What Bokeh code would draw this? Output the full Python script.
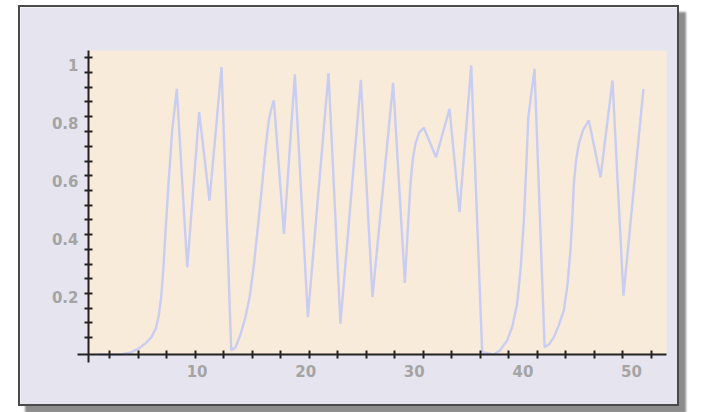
from bokeh.plotting import figure
from bokeh.models import FixedTicker, BoxAnnotation, Range1d
from bokeh.embed import file_html
from bokeh.resources import INLINE

# ---- data ----
x_values = [1.0, 3.0, 3.8, 4.6, 5.3, 5.8, 6.2, 6.45, 6.7, 6.9, 7.1, 7.37, 7.7, 8.13,
            9.09, 10.19, 11.14, 12.25, 13.14,
            13.54, 14.0, 14.46, 14.85, 15.2, 15.6, 16.0, 16.3, 16.6, 16.85, 17.07,
            18.0, 19.0, 20.2, 22.1, 23.2, 25.08, 26.15, 28.05, 29.13,
            29.4, 29.65, 29.85, 30.1, 30.45, 30.88, 32.0, 33.24, 34.16, 35.24, 36.25,
            37.3, 37.9, 38.55, 39.05, 39.47, 39.8, 40.1, 40.3, 40.5, 41.07, 42.0,
            42.4, 42.85, 43.3, 43.77, 44.1, 44.38, 44.55, 44.69, 44.9, 45.15, 45.55,
            46.07, 47.15, 48.25, 49.26, 51.1]
y_values = [0.0, 0.0, 0.006, 0.02, 0.04, 0.06, 0.09, 0.13, 0.2, 0.30, 0.43, 0.59, 0.77, 0.916,
            0.30, 0.836, 0.531, 0.991, 0.014,
            0.025, 0.07, 0.13, 0.2, 0.30, 0.44, 0.59, 0.71, 0.807, 0.85, 0.876,
            0.416, 0.966, 0.129, 0.970, 0.106, 0.947, 0.198, 0.937, 0.247,
            0.43, 0.589, 0.67, 0.726, 0.765, 0.782, 0.68, 0.847, 0.491, 0.997, 0.008,
            0.0, 0.015, 0.048, 0.1, 0.175, 0.3, 0.47, 0.64, 0.82, 0.985, 0.025,
            0.035, 0.06, 0.1, 0.152, 0.24, 0.359, 0.47, 0.589, 0.67, 0.726, 0.775,
            0.807, 0.611, 0.945, 0.203, 0.916]

x_tick_labels = [10, 20, 30, 40, 50]
y_tick_labels = [0.2, 0.4, 0.6, 0.8, 1]
x_minor_ticks = [1.93, 4.56, 7.18, 9.81, 12.43, 15.06, 17.68, 20.31, 22.93, 25.56,
                 28.18, 30.81, 33.43, 36.06, 38.68, 41.31, 43.93, 46.56, 49.18, 51.81]
y_minor_ticks = [1.023, 0.972, 0.921, 0.871, 0.820, 0.769, 0.718, 0.667, 0.617, 0.566,
                 0.515, 0.464, 0.413, 0.363, 0.312, 0.261, 0.210, 0.159, 0.109, 0.058]

# plot-area extents (data units)
X_AXIS_BOUNDS = (-1.013, 53.22)
Y_AXIS_BOUNDS = (-0.026, 1.0483)

LAVENDER = "#e6e4ee"
BEIGE = "#f9ebd9"
LINE = "#c9cdf1"
AXIS = "#222222"
LABEL = "#a4a4a4"

p = figure(width=661, height=401, output_backend="svg", toolbar_location=None,
           x_range=Range1d(-6.262, 54.604), y_range=Range1d(-0.1862, 1.1966),
           min_border=0)
p.background_fill_color = LAVENDER
p.border_fill_color = LAVENDER
p.outline_line_color = None
p.grid.visible = False
p.styles = {"margin-left": "18px", "margin-top": "5px", "border": "2px solid #4a4a4a",
            "box-shadow": "7px 7px 2px #8c8c8c"}

p.add_layout(BoxAnnotation(left=0, right=X_AXIS_BOUNDS[1], bottom=0, top=Y_AXIS_BOUNDS[1],
                           fill_color=BEIGE, fill_alpha=1.0, line_alpha=0, level="underlay"))

p.line(x_values, y_values, line_color=LINE, line_width=2.4)

for ax, ticks, minor, bounds in ((p.xaxis[0], x_tick_labels, x_minor_ticks, X_AXIS_BOUNDS),
                                 (p.yaxis[0], y_tick_labels, y_minor_ticks, Y_AXIS_BOUNDS)):
    ax.fixed_location = 0
    ax.bounds = bounds
    ax.ticker = FixedTicker(ticks=ticks, minor_ticks=minor)
    ax.axis_line_color = AXIS
    ax.axis_line_width = 2
    ax.major_tick_in = 0
    ax.major_tick_out = 0
    ax.minor_tick_in = 4
    ax.minor_tick_out = 4
    ax.minor_tick_line_color = AXIS
    ax.minor_tick_line_width = 2
    ax.major_label_text_font = "DejaVu Sans"
    ax.major_label_text_font_style = "bold"
    ax.major_label_text_font_size = "15px"
    ax.major_label_text_color = LABEL
    ax.major_label_standoff = 6

p.yaxis[0].major_label_overrides = {1: "1"}

open("out.html", "w").write(file_html(p, INLINE))
